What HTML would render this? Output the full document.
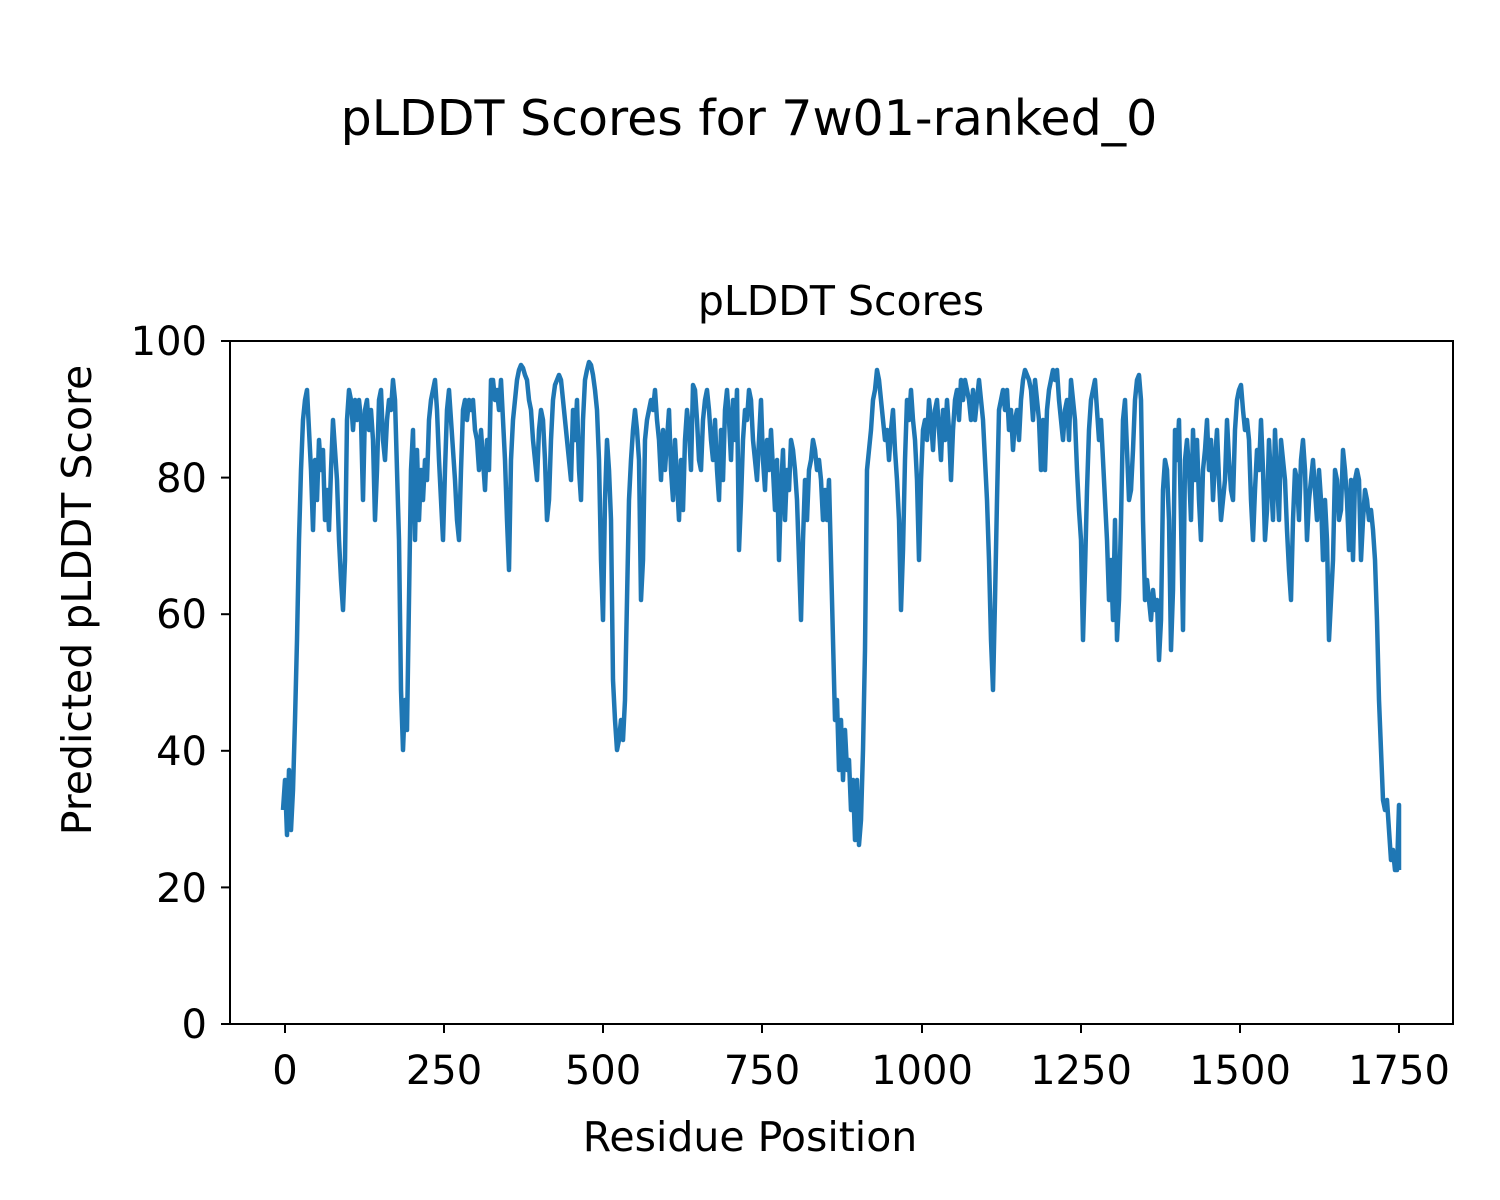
<!DOCTYPE html>
<html><head><meta charset="utf-8"><style>html,body{margin:0;padding:0;background:#fff}svg{display:block}</style></head><body>
<svg width="1500" height="1200" viewBox="0 0 1500 1200" xmlns="http://www.w3.org/2000/svg" font-family="'DejaVu Sans','Liberation Sans',sans-serif">
<rect width="1500" height="1200" fill="#fff"/>
<text x="749" y="135" font-size="49" text-anchor="middle">pLDDT Scores for 7w01-ranked_0</text>
<text x="841" y="315" font-size="41" text-anchor="middle">pLDDT Scores</text>
<polyline fill="none" stroke="#1f77b4" stroke-width="4.5" stroke-linejoin="round" points="283,810 285,780 287,835 289,770 291,830 293,790 295,720 297,640 299,540 301,470 303,420 305,400 307,390 309,430 311,470 313,530 315,460 317,500 319,440 321,470 323,450 325,520 327,490 329,530 331,470 333,420 335,450 337,480 339,540 341,580 343,610 345,560 347,420 349,390 351,400 353,430 355,400 357,420 359,400 361,420 363,500 365,410 367,400 369,430 371,410 373,440 375,520 377,470 379,400 381,390 383,440 385,460 387,420 389,400 391,410 393,380 395,400 397,470 399,540 401,690 403,750 405,700 407,730 409,600 411,470 413,430 415,540 417,450 419,520 421,470 423,500 425,460 427,480 429,420 431,400 433,390 435,380 437,410 439,460 441,500 443,540 445,470 447,410 449,390 451,420 453,450 455,480 457,520 459,540 461,470 463,410 465,400 467,420 469,400 471,410 473,400 475,430 477,440 479,470 481,430 483,460 485,490 487,440 489,470 491,380 493,380 495,400 497,390 499,410 501,380 503,420 505,460 507,520 509,570 511,460 513,420 515,400 517,380 519,370 521,365 523,368 525,375 527,380 529,400 531,410 533,440 535,460 537,480 539,430 541,410 543,420 545,460 547,520 549,500 551,440 553,400 555,385 557,380 559,375 561,380 563,400 565,420 567,440 569,460 571,480 573,410 575,440 577,400 579,470 581,500 583,420 585,380 587,370 589,362 591,365 593,375 595,390 597,410 599,460 601,560 603,620 605,500 607,440 609,470 611,520 613,680 615,720 617,750 619,740 621,720 623,740 625,700 627,600 629,500 631,460 633,430 635,410 637,430 639,460 641,600 643,560 645,440 647,420 649,410 651,400 653,410 655,390 657,420 659,440 661,480 663,430 665,470 667,440 669,410 671,470 673,500 675,440 677,480 679,520 681,460 683,510 685,440 687,410 689,430 691,470 693,385 695,390 697,420 699,460 701,470 703,420 705,400 707,390 709,410 711,440 713,460 715,420 717,470 719,500 721,430 723,480 725,410 727,390 729,420 731,460 733,400 735,440 737,390 739,550 741,500 743,440 745,410 747,420 749,390 751,400 753,440 755,460 757,480 759,440 761,400 763,460 765,490 767,440 769,470 771,430 773,470 775,510 777,460 779,560 781,490 783,450 785,520 787,470 789,490 791,440 793,450 795,470 797,500 799,560 801,620 803,540 805,480 807,520 809,470 811,460 813,440 815,450 817,470 819,460 821,480 823,520 825,490 827,520 829,480 831,560 833,640 835,720 837,700 839,770 841,720 843,780 845,730 847,770 849,760 851,810 853,780 855,840 857,780 859,845 861,820 863,750 865,650 867,470 869,450 871,430 873,400 875,390 877,370 879,380 881,400 883,420 885,440 887,430 889,460 891,430 893,410 895,450 897,480 899,520 901,610 903,550 905,460 907,400 909,420 911,390 913,420 915,440 917,480 919,560 921,480 923,430 925,420 927,440 929,400 931,420 933,450 935,410 937,400 939,430 941,460 943,410 945,440 947,400 949,430 951,480 953,430 955,400 957,390 959,420 961,380 963,400 965,380 967,390 969,400 971,420 973,390 975,420 977,400 979,380 981,400 983,420 985,460 987,500 989,560 991,640 993,690 995,600 997,500 999,410 1001,400 1003,390 1005,410 1007,390 1009,430 1011,410 1013,450 1015,420 1017,410 1019,440 1021,400 1023,380 1025,370 1027,375 1029,380 1031,390 1033,420 1035,380 1037,400 1039,420 1041,470 1043,420 1045,470 1047,410 1049,390 1051,380 1053,370 1055,380 1057,370 1059,400 1061,420 1063,440 1065,410 1067,400 1069,440 1071,380 1073,400 1075,420 1077,470 1079,510 1081,540 1083,640 1085,570 1087,490 1089,430 1091,400 1093,390 1095,380 1097,410 1099,440 1101,420 1103,460 1105,500 1107,540 1109,600 1111,560 1113,620 1115,520 1117,640 1119,600 1121,520 1123,420 1125,400 1127,450 1129,500 1131,490 1133,450 1135,400 1137,380 1139,375 1141,400 1143,520 1145,600 1147,580 1149,600 1151,620 1153,590 1155,610 1157,600 1159,660 1161,620 1163,490 1165,460 1167,470 1169,520 1171,650 1173,590 1175,430 1177,460 1179,420 1181,520 1183,630 1185,460 1187,440 1189,470 1191,520 1193,430 1195,480 1197,440 1199,500 1201,540 1203,470 1205,450 1207,420 1209,470 1211,440 1213,500 1215,460 1217,430 1219,480 1221,520 1223,500 1225,480 1227,420 1229,460 1231,490 1233,500 1235,430 1237,400 1239,390 1241,385 1243,410 1245,430 1247,420 1249,440 1251,500 1253,540 1255,490 1257,450 1259,470 1261,420 1263,470 1265,540 1267,510 1269,440 1271,480 1273,520 1275,430 1277,480 1279,520 1281,440 1283,460 1285,480 1287,530 1289,570 1291,600 1293,520 1295,470 1297,480 1299,520 1301,460 1303,440 1305,470 1307,540 1309,500 1311,480 1313,460 1315,490 1317,520 1319,470 1321,500 1323,560 1325,500 1327,540 1329,640 1331,600 1333,560 1335,470 1337,480 1339,520 1341,510 1343,450 1345,470 1347,500 1349,550 1351,480 1353,560 1355,480 1357,470 1359,480 1361,560 1363,520 1365,490 1367,500 1369,520 1371,510 1373,530 1375,560 1377,620 1379,700 1381,750 1383,800 1385,810 1387,800 1389,830 1391,860 1393,850 1395,870 1397,870 1399,805 1399,870"/>
<rect x="230" y="341" width="1223" height="683" fill="none" stroke="#000" stroke-width="2"/>
<g stroke="#000" stroke-width="2">
<line x1="221" y1="1024" x2="230" y2="1024"/><line x1="221" y1="887.4" x2="230" y2="887.4"/><line x1="221" y1="750.8" x2="230" y2="750.8"/><line x1="221" y1="614.2" x2="230" y2="614.2"/><line x1="221" y1="477.6" x2="230" y2="477.6"/><line x1="221" y1="341" x2="230" y2="341"/>
<line x1="285" y1="1024" x2="285" y2="1033"/><line x1="444" y1="1024" x2="444" y2="1033"/><line x1="603" y1="1024" x2="603" y2="1033"/><line x1="762" y1="1024" x2="762" y2="1033"/><line x1="922" y1="1024" x2="922" y2="1033"/><line x1="1081" y1="1024" x2="1081" y2="1033"/><line x1="1240" y1="1024" x2="1240" y2="1033"/><line x1="1399" y1="1024" x2="1399" y2="1033"/>
</g>
<g font-size="40" text-anchor="end">
<text x="207" y="1038">0</text><text x="207" y="902">20</text><text x="207" y="765">40</text><text x="207" y="628">60</text><text x="207" y="492">80</text><text x="207" y="355">100</text>
</g>
<g font-size="40" text-anchor="middle">
<text x="285" y="1084">0</text><text x="444" y="1084">250</text><text x="603" y="1084">500</text><text x="762" y="1084">750</text><text x="922" y="1084">1000</text><text x="1081" y="1084">1250</text><text x="1240" y="1084">1500</text><text x="1399" y="1084">1750</text>
</g>
<text x="750" y="1151" font-size="41" text-anchor="middle">Residue Position</text>
<text transform="translate(91,600) rotate(-90)" font-size="41" text-anchor="middle">Predicted pLDDT Score</text>
</svg>
</body></html>
